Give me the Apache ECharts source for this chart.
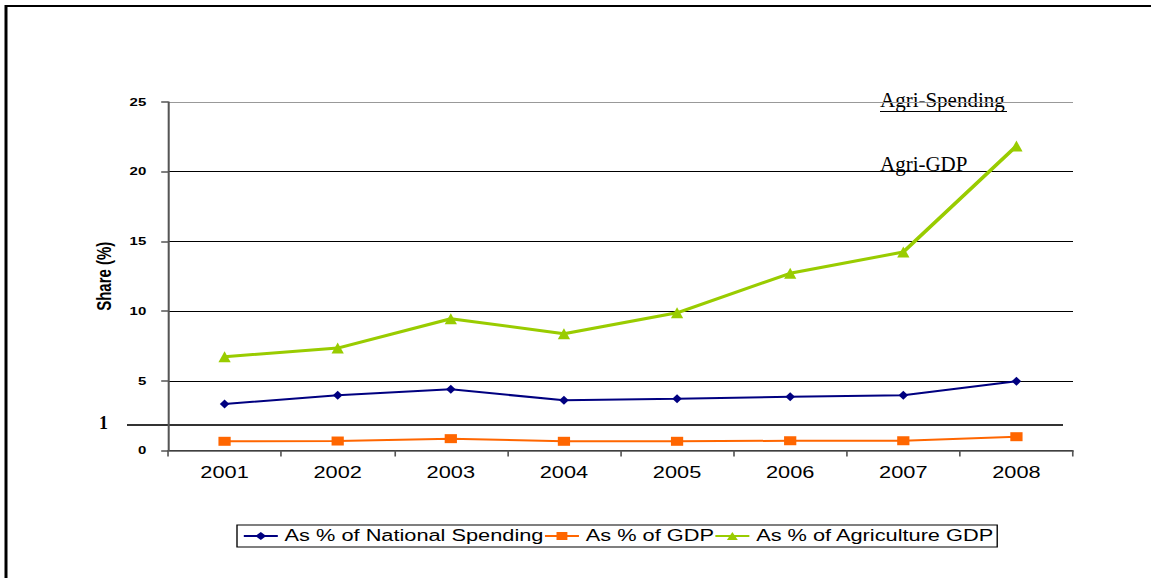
<!DOCTYPE html>
<html><head><meta charset="utf-8">
<script src="https://cdn.jsdelivr.net/npm/echarts@6/dist/echarts.min.js"></script>
<style>
html,body{margin:0;padding:0;background:#fff;overflow:hidden;width:1151px;height:578px}
#c{width:846px;height:578px;transform:scaleX(1.36052);transform-origin:0 0}
</style>
</head><body><div id="c"></div>
<script>
const years = ['2001','2002','2003','2004','2005','2006','2007','2008'];
const nationalSpending = [3.34, 3.96, 4.39, 3.6, 3.72, 3.86, 3.96, 4.96];
const gdpShare = [0.66, 0.68, 0.85, 0.66, 0.66, 0.70, 0.70, 0.99];
const agriGdpShare = [6.73, 7.35, 9.45, 8.38, 9.88, 12.71, 14.24, 21.84];
const yTicks = [0, 5, 10, 15, 20, 25];

const S = 1151 / 846; // horizontal stretch of the reference picture
const chart = echarts.init(document.getElementById('c'), null, { renderer: 'svg' });
const serif = '"Liberation Serif", "Times New Roman", serif';
chart.setOption({
  animation: false,
  backgroundColor: '#fff',
  grid: { left: 168 / S, right: 78 / S, top: 102, bottom: 127.5 },
  xAxis: {
    type: 'category', data: years, boundaryGap: true,
    axisLine: { lineStyle: { color: '#555', width: 1.5 } },
    axisTick: { show: true, length: 6, lineStyle: { color: '#555', width: 1.2 } },
    axisLabel: { color: '#000', fontSize: 16, fontFamily: 'Liberation Sans, Arial', margin: 14 }
  },
  yAxis: {
    type: 'value', min: 0, max: 25, interval: 5,
    name: 'Share (%)', nameLocation: 'middle', nameGap: 33, nameRotate: 90,
    nameTextStyle: { color: '#000', fontSize: 15, fontWeight: 'bold', fontFamily: 'Liberation Sans, Arial' },
    axisLine: { show: true, lineStyle: { color: '#555', width: 1.5 } },
    axisTick: { show: true, length: 5, lineStyle: { color: '#555', width: 1.5 } },
    axisLabel: { color: '#000', fontSize: 11, fontWeight: 'bold', fontFamily: 'Liberation Sans, Arial', margin: 16,
      formatter: v => yTicks.includes(v) ? String(v) : '' },
    splitLine: { show: true, lineStyle: { color: ['#000','#000','#000','#000','#000','#999'], width: 1 } }
  },
  legend: {
    left: 237 / S, top: 525, orient: 'horizontal',
    borderColor: '#000', borderWidth: 1, padding: [3, 2, 3, 4],
    itemGap: 0, itemWidth: 25, itemHeight: 10,
    textStyle: { color: '#000', fontSize: 16, fontFamily: 'Liberation Sans, Arial' },
    data: ['As % of National Spending', 'As % of GDP', 'As % of Agriculture GDP']
  },
  series: [
    { name: 'As % of National Spending', type: 'line', data: nationalSpending,
      symbol: 'diamond', symbolSize: [7, 9], itemStyle: { color: '#000080' },
      lineStyle: { color: '#000080', width: 2 } },
    { name: 'As % of GDP', type: 'line', data: gdpShare,
      symbol: 'rect', symbolSize: [9, 9], itemStyle: { color: '#FF6600' },
      lineStyle: { color: '#FF6600', width: 2 } },
    { name: 'As % of Agriculture GDP', type: 'line', data: agriGdpShare,
      symbol: 'triangle', symbolSize: [9, 11], itemStyle: { color: '#99CC00' },
      lineStyle: { color: '#99CC00', width: 3 } }
  ],
  graphic: [
    { type: 'rect', shape: { x: 6 / S, y: 6, width: 900, height: 700 },
      style: { fill: 'none', stroke: '#000', lineWidth: 2.2 }, silent: true },
    { type: 'line', shape: { x1: 127 / S, y1: 425, x2: 1063 / S, y2: 425 },
      style: { stroke: '#333', lineWidth: 2 }, silent: true },
    { type: 'text', x: 99 / S, y: 414, scaleX: 1 / S,
      style: { text: '1', fill: '#000', font: 'bold 18px ' + serif } },
    { type: 'text', x: 880 / S, y: 89, scaleX: 1 / S,
      style: { text: 'Agri-Spending', fill: '#000', font: '21px ' + serif } },
    { type: 'line', shape: { x1: 880 / S, y1: 111.5, x2: 1007 / S, y2: 111.5 },
      style: { stroke: '#000', lineWidth: 1 }, silent: true },
    { type: 'text', x: 880 / S, y: 153, scaleX: 1 / S,
      style: { text: 'Agri-GDP', fill: '#000', font: '21px ' + serif } }
  ]
});
</script></body></html>
